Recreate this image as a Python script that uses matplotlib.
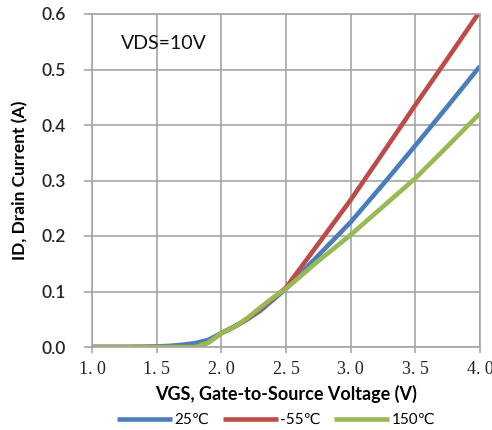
import matplotlib
matplotlib.use("Agg")
import matplotlib.pyplot as plt

vgs = [1.0, 1.25, 1.5, 1.6, 1.7, 1.8, 1.9, 2.0, 2.1, 2.2, 2.3, 2.4, 2.5, 2.75, 3.0, 3.25, 3.5, 3.75, 4.0]
id_25 = [0, 0, 0.001, 0.002, 0.004, 0.007, 0.013, 0.025, 0.037, 0.05, 0.065, 0.085, 0.105, 0.165, 0.225, 0.293, 0.363, 0.434, 0.506]
id_m55 = [0, 0, 0, 0, 0, 0, 0.008, 0.025, 0.036, 0.05, 0.068, 0.087, 0.107, 0.186, 0.265, 0.35, 0.436, 0.52, 0.605]
id_150 = [0, 0, 0, 0, 0, 0, 0.008, 0.025, 0.036, 0.052, 0.071, 0.089, 0.105, 0.155, 0.202, 0.253, 0.304, 0.362, 0.421]
labels = ["25℃", "-55℃", "150℃"]
xticks = [1.0, 1.5, 2.0, 2.5, 3.0, 3.5, 4.0]
xtick_labels = ["1. 0", "1. 5", "2. 0", "2. 5", "3. 0", "3. 5", "4. 0"]
yticks = [0.0, 0.1, 0.2, 0.3, 0.4, 0.5, 0.6]
ytick_labels = ["0.0", "0.1", "0.2", "0.3", "0.4", "0.5", "0.6"]

fig = plt.figure(figsize=(4.92, 4.30), dpi=100)
ax = fig.add_axes([92/492, 1-347/430, (480-92)/492, (347-14)/430])

gridc = "#a6a6a6"
ax.set_xlim(1.0, 4.0)
ax.set_ylim(0.0, 0.6)
ax.set_xticks(xticks)
ax.set_xticklabels(xtick_labels, family="Liberation Serif", fontsize=13, color="#222222")
ax.set_yticks(yticks)
ax.set_yticklabels(ytick_labels, family="Lato", fontsize=12.5, fontweight="semibold", color="#262626")
ax.grid(True, color=gridc, linewidth=1.2)
ax.set_axisbelow(True)
for s in ax.spines.values():
    s.set_color(gridc)
    s.set_linewidth(1.2)
ax.tick_params(axis="y", length=6, width=1.2, color=gridc, pad=13)
ax.tick_params(axis="x", length=4, width=1.2, color=gridc, pad=6)

l1, = ax.plot(vgs, id_25, color="#4a7ebb", lw=3.3, label=labels[0], solid_capstyle="butt")
l2, = ax.plot(vgs, id_m55, color="#be4b48", lw=3.3, label=labels[1], solid_capstyle="butt")
l3, = ax.plot(vgs, id_150, color="#98b954", lw=3.3, label=labels[2], solid_capstyle="butt")

ax.text(1.22, 0.546, "VDS=10V", family="Lato", fontsize=14, color="#111111", va="center", ha="left")

ax.set_xlabel("VGS, Gate-to-Source Voltage (V)", family="Lato", fontsize=13, fontweight="bold", labelpad=5)
ax.set_ylabel("ID, Drain Current (A)", family="Lato", fontsize=12.5, fontweight="bold", labelpad=9)

fig.legend(handles=[l1, l2, l3], labels=labels, loc="center", bbox_to_anchor=(276/492, 1-420/430),
           ncol=3, frameon=False, handlelength=3.6, handletextpad=0.15,
           columnspacing=0.9, prop={"family": ["Lato", "DejaVu Sans"], "size": 11})

fig.savefig("out.png", dpi=100)
